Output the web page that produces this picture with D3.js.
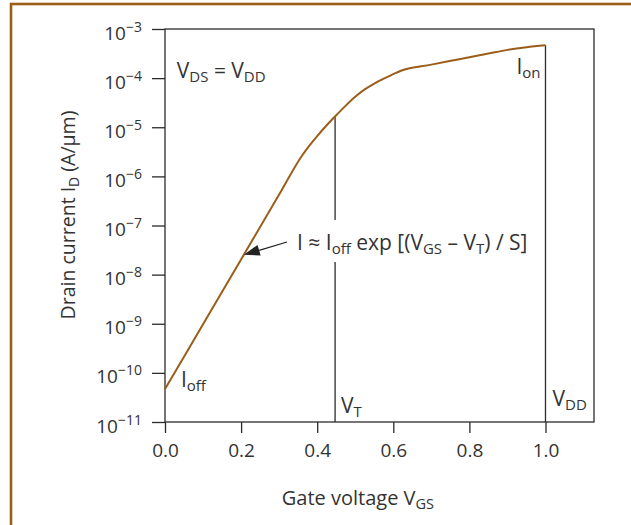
<!DOCTYPE html>
<html>
<head>
<meta charset="utf-8">
<script src="https://cdn.jsdelivr.net/npm/d3@7"></script>
<style>
  body { margin: 0; background: #fff; }
  svg text { font-family: "Open Sans", sans-serif; fill: #333; }
</style>
</head>
<body>
<div id="chart"></div>
<script>
// gate voltage (V) and log10 of drain current (A/um)
const vgs = [0, 0.10, 0.20, 0.30, 0.36, 0.38, 0.40, 0.425, 0.447, 0.475, 0.50, 0.525, 0.55, 0.575, 0.60, 0.62, 0.70, 0.77, 0.85, 0.90, 0.95, 1.0]
const logId = [-10.33, -9.01, -7.69, -6.37, -5.58, -5.37, -5.18, -4.96, -4.78, -4.56, -4.38, -4.23, -4.11, -4.01, -3.92, -3.85, -3.725, -3.62, -3.50, -3.425, -3.37, -3.33]
const xTicks = [0, 0.2, 0.4, 0.6, 0.8, 1.0]
const yExponents = [-3, -4, -5, -6, -7, -8, -9, -10, -11]
const vT = 0.447
const vDD = 1.0

const width = 631, height = 525
const brown = "#9b5d18"

const svg = d3.select("#chart")
  .append("svg")
    .attr("width", width)
    .attr("height", height)

// outer frame (only top and left edges show)
svg.append("rect")
  .attr("x", 11).attr("y", 4)
  .attr("width", width + 20).attr("height", height + 20)
  .attr("fill", "none")
  .attr("stroke", brown)
  .attr("stroke-width", 2.6)

const x = d3.scaleLinear().domain([0, 1.1275]).range([165, 594])
const y = d3.scaleLog().domain([1e-11, 1e-3]).range([422, 29])

const data = vgs.map((v, i) => ({v: v, id: Math.pow(10, logId[i])}))

// plot box
svg.append("rect")
  .attr("x", x(0)).attr("y", y(1e-3))
  .attr("width", x(1.1275) - x(0)).attr("height", y(1e-11) - y(1e-3))
  .attr("fill", "none")
  .attr("stroke", "#2b2b2b")
  .attr("stroke-width", 1.3)

// y axis
const yAxis = svg.append("g")
  .attr("transform", "translate(" + x(0) + ",0)")
  .call(d3.axisLeft(y)
    .tickValues(yExponents.map(e => Math.pow(10, e)))
    .tickSize(13)
    .tickSizeOuter(0)
    .tickPadding(10)
    .tickFormat(""))
yAxis.select(".domain").remove()
yAxis.selectAll(".tick line").attr("stroke", "#2b2b2b").attr("stroke-width", 1.3)
yAxis.selectAll(".tick text")
  .attr("dy", null)
  .attr("y", 10)
  .attr("font-size", "19px")
  .attr("fill", "#333")
  .each(function(d){
    const t = d3.select(this)
    t.append("tspan").text("10")
    t.append("tspan")
      .attr("dy", -8)
      .attr("font-size", "14px")
      .text("\u2212" + Math.round(-Math.log10(d)))
  })

// x axis
const xAxis = svg.append("g")
  .attr("transform", "translate(0," + y(1e-11) + ")")
  .call(d3.axisBottom(x)
    .tickValues(xTicks)
    .tickSize(11)
    .tickSizeOuter(0)
    .tickPadding(11)
    .tickFormat(d3.format(".1f")))
xAxis.select(".domain").remove()
xAxis.selectAll(".tick line").attr("stroke", "#2b2b2b").attr("stroke-width", 1.3)
xAxis.selectAll(".tick text").attr("font-size", "19px").attr("fill", "#333")

// helper for text with subscripts
function richText(sel, parts, sub){
  sub = sub || "15px"
  let shifted = false
  parts.forEach(p => {
    const span = sel.append("tspan").text(p[0])
    if (p[1] && !shifted) { span.attr("dy", 4).attr("font-size", sub); shifted = true }
    else if (p[1]) { span.attr("font-size", sub) }
    else if (shifted) { span.attr("dy", -4); shifted = false }
  })
  return sel
}

const fs = "21px"

// axis titles
richText(svg.append("text")
  .attr("transform", "translate(75,215) rotate(-90)")
  .attr("text-anchor", "middle")
  .attr("font-size", "19.5px"),
  [["Drain current I"], ["D", true], [" (A/\u00b5m)"]], "14px")

richText(svg.append("text")
  .attr("x", x(0.507))
  .attr("y", 505)
  .attr("text-anchor", "middle")
  .attr("font-size", "20px"),
  [["Gate voltage V"], ["GS", true]], "14.5px")

// V_T and V_DD markers
const valueAt = v => Math.pow(10, d3.scaleLinear().domain(vgs).range(logId)(v))
svg.append("line")
  .attr("x1", x(vT)).attr("x2", x(vT))
  .attr("y1", y(valueAt(vT))).attr("y2", y(1e-11))
  .attr("stroke", "#2b2b2b").attr("stroke-width", 1.3)
svg.append("line")
  .attr("x1", x(vDD)).attr("x2", x(vDD))
  .attr("y1", y(valueAt(vDD))).attr("y2", y(1e-11))
  .attr("stroke", "#2b2b2b").attr("stroke-width", 1.3)

// the I-V curve
svg.append("path")
  .datum(data)
  .attr("fill", "none")
  .attr("stroke", brown)
  .attr("stroke-width", 2)
  .attr("d", d3.line()
    .x(d => x(d.v))
    .y(d => y(d.id))
    .curve(d3.curveMonotoneX))

// labels
richText(svg.append("text").attr("x", x(0.031)).attr("y", y(1e-4)).attr("font-size", fs),
  [["V"], ["DS", true], [" = V"], ["DD", true]])
richText(svg.append("text").attr("x", x(vDD) - 5).attr("y", y(1e-4) - 4).attr("text-anchor", "end").attr("font-size", fs),
  [["I"], ["on", true]])
richText(svg.append("text").attr("x", x(0.042)).attr("y", y(1e-11) - 35).attr("font-size", fs),
  [["I"], ["off", true]])
richText(svg.append("text").attr("x", x(vT) + 6).attr("y", y(1e-11) - 9).attr("font-size", fs),
  [["V"], ["T", true]])
richText(svg.append("text").attr("x", x(vDD) + 7).attr("y", y(1e-11) - 16).attr("font-size", fs),
  [["V"], ["DD", true]])

// subthreshold formula with arrow
const formula = svg.append("text").attr("x", x(0.347)).attr("y", 250).attr("font-size", fs)
richText(formula, [["I \u2248 I"], ["off", true], [" exp [(V"], ["GS", true], [" \u2013 V"], ["T", true], [") / S]"]])
const bb = formula.node().getBBox()
svg.insert("rect", () => formula.node())
  .attr("x", bb.x - 6).attr("y", bb.y - 8)
  .attr("width", bb.width + 10).attr("height", bb.height + 12)
  .attr("fill", "#fff")

const arrowV = 0.207
const ax = x(arrowV), ay = y(valueAt(arrowV))
const sx = bb.x - 10, sy = 242
const ang = Math.atan2(ay - sy, ax - sx)
const headLen = 16, headW = 5.5
const bx = ax - headLen * Math.cos(ang), by = ay - headLen * Math.sin(ang)
svg.append("line")
  .attr("x1", sx).attr("y1", sy).attr("x2", bx).attr("y2", by)
  .attr("stroke", "#222").attr("stroke-width", 1.3)
svg.append("path")
  .attr("d", d3.line()([
    [ax, ay],
    [bx + headW * Math.sin(ang), by - headW * Math.cos(ang)],
    [bx - headW * Math.sin(ang), by + headW * Math.cos(ang)]
  ]) + "Z")
  .attr("fill", "#222")
</script>
</body>
</html>
